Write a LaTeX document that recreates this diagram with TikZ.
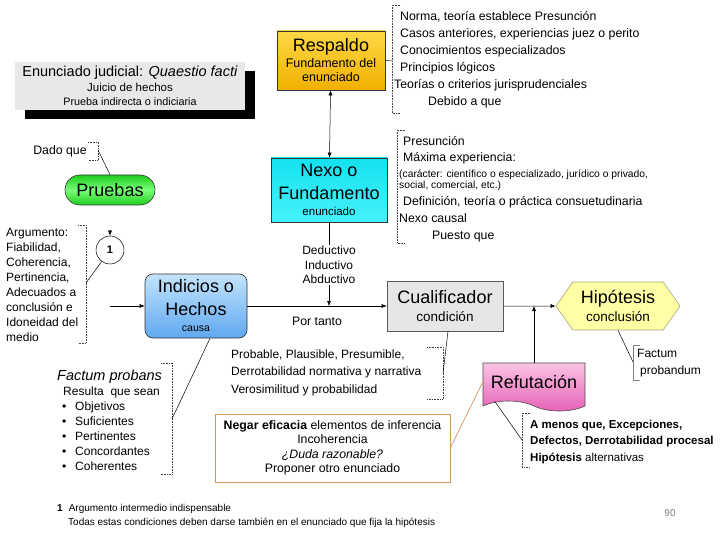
\documentclass[tikz,border=0pt]{standalone}
\usepackage{fontspec}
\setmainfont{Liberation Sans}
\usetikzlibrary{arrows.meta,shapes.symbols,shadows}

\definecolor{enunFill}{RGB}{232,232,232}
\definecolor{respTop}{RGB}{255,216,70}
\definecolor{respBot}{RGB}{240,176,0}
\definecolor{nexoTop}{RGB}{20,225,240}
\definecolor{nexoBot}{RGB}{70,242,250}
\definecolor{pruebEdge}{RGB}{30,205,30}
\definecolor{pruebMid}{RGB}{120,255,120}
\definecolor{indTop}{RGB}{195,228,252}
\definecolor{indBot}{RGB}{95,168,240}
\definecolor{cualFill}{RGB}{230,230,230}
\definecolor{cualDraw}{RGB}{90,90,90}
\definecolor{hipFill}{RGB}{255,255,165}
\definecolor{hipDraw}{RGB}{165,165,120}
\definecolor{refTop}{RGB}{252,195,228}
\definecolor{refBot}{RGB}{228,95,182}
\definecolor{negarDraw}{RGB}{214,150,90}

\newcommand{\titlesize}{\fontsize{18}{23}\selectfont}
\newcommand{\notesize}{\fontsize{12.3}{17}\selectfont}
\newcommand{\smallnote}{\fontsize{10.3}{12}\selectfont}

\begin{document}
\begin{tikzpicture}[x=1pt,y=-1pt,>={Latex[length=5pt,width=4pt]},
  box/.style={rectangle,draw=black!80,line width=0.6pt,align=center,inner sep=2pt},
  notes/.style={align=left,inner sep=0pt,anchor=north west,font=\notesize},
  bracketline/.style={densely dotted,line width=0.6pt,black!75},
  link/.style={line width=0.5pt}]
\useasboundingbox (0,0) rectangle (720,540);
\fill[white] (0,0) rectangle (720,540);

% title box
\node[fill=enunFill,drop shadow={shadow xshift=10pt,shadow yshift=-9pt,fill=black,opacity=1},
  minimum width=230pt,minimum height=48pt,align=center,inner sep=0pt,
  font=\fontsize{11.5}{14.5}\selectfont] (enunciado) at (130,86)
  {{\fontsize{14.5}{16}\selectfont Enunciado judicial: \textit{Quaestio facti}}\\
   Juicio de hechos\\{\fontsize{10.8}{13}\selectfont Prueba indirecta o indiciaria}};

% main boxes
\node[box,top color=respTop,bottom color=respBot,minimum width=108pt,minimum height=59pt,
  font=\fontsize{12.5}{14}\selectfont] (respaldo) at (331,60.5)
  {{\titlesize Respaldo}\\[2pt]Fundamento del\\enunciado};
\node[box,top color=nexoTop,bottom color=nexoBot,minimum width=116pt,minimum height=64pt,
  font=\titlesize] (nexo) at (329,190)
  {Nexo o\\Fundamento\\[-7pt]{\fontsize{11.5}{12}\selectfont enunciado}};
\node[box,rounded corners=15pt,top color=pruebEdge,bottom color=pruebEdge,middle color=pruebMid,
  minimum width=90pt,minimum height=30pt,font=\titlesize] (pruebas) at (110,190) {Pruebas};
\node[circle,draw,line width=0.5pt,minimum size=28pt,inner sep=0pt,
  font=\bfseries\fontsize{11}{13}\selectfont] (uno) at (110,250) {1};
\node[box,rounded corners=8pt,top color=indTop,bottom color=indBot,minimum width=102pt,
  minimum height=64pt,font=\titlesize] (indicios) at (196,306)
  {Indicios o\\Hechos\\[-7pt]{\fontsize{10.5}{12}\selectfont causa}};
\node[box,fill=cualFill,draw=cualDraw,minimum width=116pt,minimum height=50pt,
  font=\titlesize] (cualif) at (445,306)
  {Cualificador\\[-5pt]{\fontsize{13.5}{14}\selectfont condición}};
\node[signal,signal to=west and east,signal pointer angle=110,fill=hipFill,draw=hipDraw,
  line width=0.6pt,minimum width=124pt,minimum height=48pt,align=center,inner sep=1pt,
  font=\titlesize] (hipotesis) at (618,306)
  {Hipótesis\\[-5pt]{\fontsize{13.5}{14}\selectfont conclusión}};
\node[tape,tape bend top=none,tape bend bottom=out and in,tape bend height=10pt,
  draw=black!70,line width=0.6pt,top color=refTop,bottom color=refBot,
  minimum width=102pt,minimum height=48pt,font=\titlesize] (refut) at (534,382) {Refutación};

% notes
\node[notes] (respnotes) at (394,11)
  {\hspace*{6pt}Norma, teoría establece Presunción\\
   \hspace*{6pt}Casos anteriores, experiencias juez o perito\\
   \hspace*{6pt}Conocimientos especializados\\
   \hspace*{6pt}Principios lógicos\\
   Teorías o criterios jurisprudenciales\\
   \hspace*{34pt}Debido a que};
\node[notes] (nexonotes) at (399,136)
  {\hspace*{4pt}Presunción\\[-1pt]
   \hspace*{4pt}Máxima experiencia:\\[-1pt]
   {\smallnote (carácter: científico o especializado, jurídico o privado,}\\[-6pt]
   {\smallnote social, comercial, etc.)}\\[0pt]
   \hspace*{4pt}Definición, teoría o práctica consuetudinaria\\
   Nexo causal\\
   \hspace*{33pt}Puesto que};
\node[font=\notesize] (dado) at (60,151) {Dado que};
\node[notes,font=\fontsize{12}{15}\selectfont] (argumento) at (6,228)
  {Argumento:\\Fiabilidad,\\Coherencia,\\Pertinencia,\\Adecuados a\\conclusión e\\Idoneidad del\\medio};
\node[font=\fontsize{12}{14.5}\selectfont,align=center,inner sep=1pt] (inferencia) at (329,265)
  {Deductivo\\Inductivo\\Abductivo};
\node[font=\notesize] (portanto) at (317,321) {Por tanto};
\node[notes,font=\fontsize{12}{15}\selectfont] (probans) at (57,370)
  {{\fontsize{14.5}{15}\selectfont\itshape Factum probans}\\
   \hspace*{6pt}Resulta\ \ que sean\\
   \hspace*{5pt}\makebox[13pt][l]{•}Objetivos\\
   \hspace*{5pt}\makebox[13pt][l]{•}Suficientes\\
   \hspace*{5pt}\makebox[13pt][l]{•}Pertinentes\\
   \hspace*{5pt}\makebox[13pt][l]{•}Concordantes\\
   \hspace*{5pt}\makebox[13pt][l]{•}Coherentes};
\node[notes,font=\fontsize{12}{17.5}\selectfont] (probable) at (231,349.5)
  {Probable, Plausible, Presumible,\\Derrotabilidad normativa y narrativa\\Verosimilitud y probabilidad};
\node[draw=negarDraw,line width=0.7pt,fill=white,minimum width=235pt,minimum height=68pt,
  align=center,font=\fontsize{12.3}{14.5}\selectfont] (negar) at (332.5,448)
  {\textbf{Negar eficacia} elementos de inferencia\\Incoherencia\\\textit{¿Duda razonable?}\\Proponer otro enunciado};
\node[notes,font=\fontsize{12}{17}\selectfont] (probandum) at (637,349)
  {Factum\\\hspace*{3pt}probandum};
\node[notes,font=\fontsize{11.5}{16.5}\selectfont] (refnotes) at (530,419.5)
  {\textbf{A menos que, Excepciones,}\\\textbf{Defectos, Derrotabilidad procesal}\\\textbf{Hipótesis} alternativas};
\node[notes,font=\fontsize{10}{14}\selectfont] (nota) at (57,504.5)
  {\textbf{1}\hspace{6pt}Argumento intermedio indispensable\\
   \hspace*{11pt}Todas estas condiciones deben darse también en el enunciado que fija la hipótesis};
\node[font=\fontsize{10}{12}\selectfont,text=black!50] (pagina) at (670,513) {90};

% brackets
\draw[bracketline] (400,5) -- (392,5) -- (392,113) -- (400,113);
\draw[bracketline] (405,130) -- (397,130) -- (397,243) -- (405,243);
\draw[bracketline] (88,142) -- (98,142) -- (98,160) -- (88,160);
\draw[bracketline] (78,225) -- (86,225) -- (86,343) -- (78,343);
\draw[bracketline] (161,363) -- (172,363) -- (172,474) -- (161,474);
\draw[bracketline] (427,347) -- (443,347) -- (443,399) -- (427,399);
\draw[bracketline] (530,413) -- (522,413) -- (522,467) -- (530,467);
\draw[gray,line width=0.8pt] (640,345) -- (633,345) -- (633,380) -- (640,380);
\coordinate (respbr) at (392,61);
\coordinate (dadobr) at (98,150);
\coordinate (argbr) at (86,283);
\coordinate (probansbr) at (172,419);
\coordinate (probbr) at (443,373);
\coordinate (probandumbr) at (633,362);
\coordinate (refbr) at (522,440);
\coordinate (entrada) at (110,306);

% connectors
\draw[link] (respaldo.east) -- (respbr);
\draw[link,<->] (respaldo) -- (nexo);
\draw[link] (nexo) -- (inferencia);
\draw[link,->] (inferencia) -- (inferencia |- indicios.east);
\draw[link,->] (entrada) -- (indicios);
\draw[link,->] (indicios) -- (cualif);
\draw[link,->] (cualif) -- (hipotesis);
\draw[link,->] (refut) -- (refut |- cualif.east);
\draw[link] (dadobr) -- (pruebas.north);
\draw[link,->] ([yshift=6pt]uno.north) -- (uno.north);
\draw[link] (argbr) -- (uno);
\draw[link] ([xshift=14pt]indicios.south) -- (probansbr);
\draw[link] ([xshift=3pt]cualif.south) -- (probbr);
\draw[link] (hipotesis.south) -- (probandumbr);
\draw[link] ([xshift=12pt]refut.south west) -- (refbr);
\draw[negarDraw,line width=0.7pt] (negar.east) -- (refut.west);
\end{tikzpicture}
\end{document}
